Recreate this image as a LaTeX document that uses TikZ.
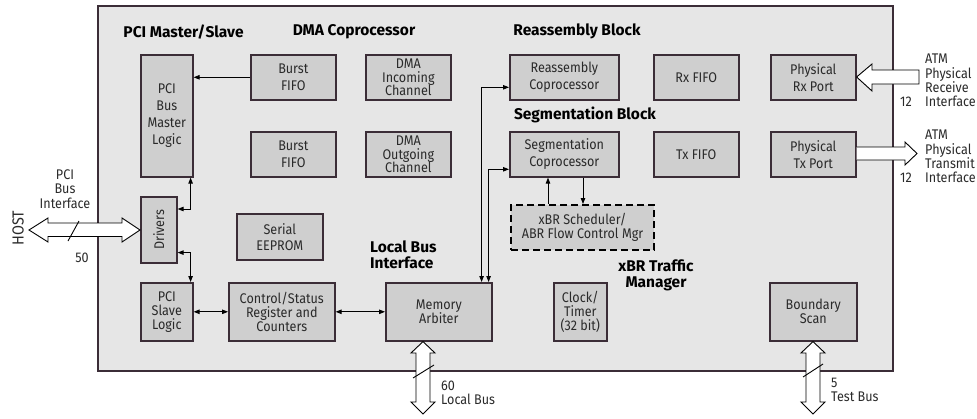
\documentclass[tikz,border=0pt]{standalone}
\usepackage{fontspec}
\setmainfont{Fira Sans}[FakeStretch=0.9]
\newfontfamily\tfont{Fira Sans}
\usetikzlibrary{arrows.meta}
\definecolor{bg}{HTML}{E6E6E6}
\definecolor{boxfill}{HTML}{CFCFCF}
\definecolor{edge}{HTML}{3B2D37}
\definecolor{txt}{HTML}{2A2A2A}
\begin{document}
\begin{tikzpicture}[x=1pt,y=-1pt,
  blk/.style={draw=edge, line width=1.6pt, fill=boxfill, inner sep=0pt, align=center,
    anchor=north west, text=txt, font=\fontsize{14}{14}\selectfont},
  loose/.style={font=\fontsize{14}{17}\selectfont},
  title/.style={font=\tfont\bfseries\fontsize{15.5}{16}\selectfont, text=black, inner sep=0pt},
  lbl/.style={font=\fontsize{14}{14.3}\selectfont, text=txt, inner sep=0pt},
  con/.style={line width=0.9pt, draw=black},
  tip/.style={-{Triangle[length=6pt,width=4.5pt]}},
  btip/.style={{Triangle[length=6pt,width=4.5pt]}-{Triangle[length=6pt,width=4.5pt]}},
  fat/.style={draw=black, line width=0.9pt, fill=white, line join=miter}
]
\useasboundingbox (0,0) rectangle (977,418);
% main chip
\node[draw=edge, line width=1.5pt, fill=bg, minimum width=795pt, minimum height=365pt,
  anchor=north west, inner sep=0pt] (chip) at (97,5) {};

% titles
\node[title] (tpci) at (183.5,32) {PCI Master/Slave};
\node[title] (tdma) at (354,32) {DMA Coprocessor};
\node[title] (trea) at (577,31) {Reassembly Block};
\node[title] (tseg) at (585,115) {Segmentation Block};
\node[title, align=left, anchor=west] (tlbi) at (370,255) {Local Bus\\Interface};
\node[title, align=center] (txbr) at (656,275.5) {xBR Traffic\\Manager};

% blocks
\node[blk, loose, minimum width=52pt, minimum height=122pt] (pml) at (140,54) {PCI\\Bus\\Master\\Logic};
\node[blk, loose, minimum width=85pt, minimum height=45pt] (bf1) at (250,54) {Burst\\FIFO};
\node[blk, loose, minimum width=85pt, minimum height=45pt] (bf2) at (250,131) {Burst\\FIFO};
\node[blk, font=\fontsize{14}{13.5}\selectfont, minimum width=85pt, minimum height=45pt] (dmai) at (365,54) {DMA\\Incoming\\Channel};
\node[blk, font=\fontsize{14}{13.5}\selectfont, minimum width=85pt, minimum height=45pt] (dmao) at (365,131) {DMA\\Outgoing\\Channel};
\node[blk, loose, minimum width=109pt, minimum height=45pt] (reas) at (509,54) {Reassembly\\Coprocessor};
\node[blk, loose, minimum width=109pt, minimum height=45pt] (seg) at (509,131) {Segmentation\\Coprocessor};
\node[blk, minimum width=85pt, minimum height=45pt] (rxf) at (653,54) {Rx FIFO};
\node[blk, minimum width=85pt, minimum height=45pt] (txf) at (653,131) {Tx FIFO};
\node[blk, loose, minimum width=85pt, minimum height=45pt] (prx) at (770,54) {Physical\\Rx Port};
\node[blk, loose, minimum width=85pt, minimum height=45pt] (ptx) at (770,131) {Physical\\Tx Port};
\node[blk, minimum width=36pt, minimum height=66pt] (drv) at (140,196) {};
\node[rotate=90, text=txt, font=\fontsize{14}{14}\selectfont, inner sep=0pt] (drvt) at (drv.center) {Drivers};
\node[blk, font=\fontsize{14}{16}\selectfont, minimum width=86pt, minimum height=46pt] (eep) at (236,213) {Serial\\EEPROM};
\node[blk, minimum width=52pt, minimum height=58pt] (psl) at (140,282) {PCI\\Slave\\Logic};
\node[blk, minimum width=106pt, minimum height=58pt] (csr) at (228,282) {Control/Status\\Register and\\Counters};
\node[blk, minimum width=106pt, minimum height=58pt] (mem) at (385,282) {Memory\\Arbiter};
\node[blk, minimum width=53pt, minimum height=58pt] (clk) at (553,282) {Clock/\\Timer\\(32 bit)};
\node[blk, minimum width=87pt, minimum height=58pt] (bsc) at (769,282) {Boundary\\Scan};
\node[blk, draw=black, line width=2pt, dash pattern=on 7pt off 4pt, minimum width=143pt, minimum height=45pt] (sch) at (510,204) {xBR Scheduler/\\ABR Flow Control Mgr};

% thin connectors
\draw[con, tip] (bf1.west) -- (pml.east |- bf1.west);
\draw[con, btip] ([yshift=-13pt]drv.north east) -| ([xshift=-3pt]pml.south east);
\draw[con, btip] ([yshift=11pt]drv.south east) -| ([xshift=-3pt]psl.north east);
\draw[con, btip] (psl.east) -- (csr.west);
\draw[con, btip] (csr.east) -- (mem.west);
\draw[con, btip] ([xshift=-11pt]mem.north east) |- ([yshift=-10pt]reas.west);
\draw[con, btip] ([xshift=-4pt]mem.north east) |- ([yshift=-15pt]seg.west);
\coordinate (s1) at ([xshift=38pt]sch.north west);
\coordinate (s2) at ([xshift=73pt]sch.north west);
\draw[con, tip] (s1) -- (s1 |- seg.south);
\draw[con, tip] (s2 |- seg.south) -- (s2);

% fat buses
\draw[fat] (29,230) -- (48,218) -- (48,223) -- (122,223) -- (122,218) -- (drv.west |- 0,230)
  -- (122,242) -- (122,236.5) -- (48,236.5) -- (48,242) -- cycle;
\draw[line width=0.9pt] (68,241) -- (79,221);
\draw[fat] (prx.east |- 0,77) -- (872,64) -- (872,70) -- (919,70) -- (919,84) -- (872,84) -- (872,91) -- cycle;
\draw[fat] (ptx.east |- 0,147) -- (905,147) -- (905,142) -- (917,153.5) -- (905,165) -- (905,160) -- (ptx.east |- 0,160);
\draw[fat] (mem.south -| 423,0) -- (435,353) -- (430,353) -- (430,402) -- (435,402) -- (423,414)
  -- (411,402) -- (416,402) -- (416,353) -- (411,353) -- cycle;
\draw[line width=0.9pt] (413,378) -- (434,365);
\draw[fat] (bsc.south -| 813,0) -- (825,353) -- (820,353) -- (820,402) -- (825,402) -- (813,414)
  -- (801,402) -- (806,402) -- (806,353) -- (801,353) -- cycle;
\draw[line width=0.9pt] (803,377) -- (823,364);

% external labels
\node[rotate=90, font=\fontsize{16}{16}\selectfont, text=txt, inner sep=0pt] (host) at (18,228) {HOST};
\node[lbl, align=center] (pbi) at (65,189) {PCI\\Bus\\Interface};
\node[lbl] (n50) at (82,258) {50};
\node[lbl, align=left, anchor=west] (n60) at (441,392.5) {60\\Local Bus};
\node[lbl, align=left, anchor=west] (n5) at (831,390) {5\\Test Bus};
\node[lbl, align=left, anchor=west] (atmr) at (925,80.5) {ATM\\Physical\\Receive\\Interface};
\node[lbl] (n12r) at (906,102) {12};
\node[lbl, align=left, anchor=west] (atmt) at (925,156.5) {ATM\\Physical\\Transmit\\Interface};
\node[lbl] (n12t) at (906,178) {12};
\end{tikzpicture}
\end{document}
